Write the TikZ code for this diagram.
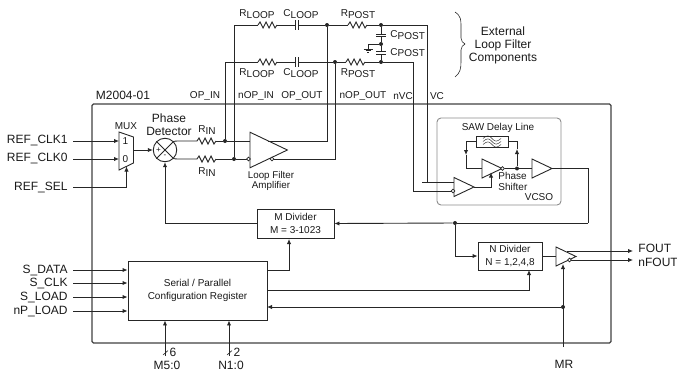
\documentclass[tikz,border=0pt]{standalone}
\usepackage{fontspec}
\setmainfont{Liberation Sans}
\usetikzlibrary{arrows.meta}
\definecolor{wirecol}{gray}{0.15}
\definecolor{framecol}{gray}{0.25}
\definecolor{vcsocol}{gray}{0.55}
\newcommand{\sublab}[2]{#1\raisebox{-1.6pt}{#2}}
\tikzset{
  >={Latex[length=5pt,width=4.4pt]},
  txtsmall/.style={font=\fontsize{10}{12.5}\selectfont,text=black!90,inner sep=0pt,align=center},
  txtbig/.style={font=\fontsize{12}{13}\selectfont,text=black!90,inner sep=0pt,align=center},
  pinleft/.style={txtbig,anchor=east,inner xsep=5pt},
  box/.style={draw=wirecol,txtsmall,fill=white},
  dot/.style={circle,fill=wirecol,inner sep=0pt,minimum size=4pt},
  bubble/.style={circle,draw=wirecol,fill=white,inner sep=0pt,minimum size=3.8pt,line width=0.6pt},
  resistor/.pic={
    \draw (0,0) -- (2,-3) -- (5,3) -- (8,-3) -- (11,3) -- (14,-3) -- (17,3) -- (19,0);
    \coordinate (-in) at (0,0);
    \coordinate (-out) at (19,0);
  },
  capacitor/.pic={
    \draw (-1.5,-5) -- (-1.5,5);
    \draw (1.5,-5) -- (1.5,5);
    \coordinate (-in) at (-1.5,0);
    \coordinate (-out) at (1.5,0);
  },
  capvert/.pic={
    \draw (-5,-1.4) -- (5,-1.4);
    \draw (-5,1.4) -- (5,1.4);
    \coordinate (-in) at (0,-1.4);
    \coordinate (-out) at (0,1.4);
  },
  buffer/.pic={
    \draw[fill=white] (0,-9.5) -- (20,0) -- (0,9.5) -- cycle;
    \coordinate (-in) at (0,0);
    \coordinate (-tip) at (20,0);
  },
}
\begin{document}
\begin{tikzpicture}[x=1pt,y=-1pt,line width=0.9pt,draw=wirecol]
  \useasboundingbox (0,0) rectangle (677,372);
  % frames
  \draw[framecol,line width=1.1pt,rounded corners=1.5pt] (92,104) rectangle (611,343);
  \draw[vcsocol,rounded corners=4pt] (437,118) rectangle (561,205);
  \node[txtbig] (chipname) at (123,95) {M2004-01};
  \node[txtsmall] (vcsoname) at (539,197) {VCSO};

  % pins on the left
  \node[pinleft] (refclka) at (73,141) {REF\_CLK1};
  \node[pinleft] (refclkb) at (73,159) {REF\_CLK0};
  \node[pinleft] (refsel) at (73,187) {REF\_SEL};
  \node[pinleft] (sdata) at (73,270) {S\_DATA};
  \node[pinleft] (sclk) at (73,283) {S\_CLK};
  \node[pinleft] (sload) at (73,297) {S\_LOAD};
  \node[pinleft] (npload) at (73,311) {nP\_LOAD};

  % mux and phase detector
  \coordinate (muxa) at (119,141);
  \coordinate (muxb) at (119,159);
  \coordinate (muxout) at (133.5,150);
  \coordinate (muxsel) at (126.5,166.5);
  \draw[fill=white] (119,132) -- (133.5,137) -- (133.5,163) -- (119,170) -- cycle;
  \node[txtsmall] (muxname) at (126,126) {MUX};
  \node[txtsmall] (muxlaba) at (125.5,141) {1};
  \node[txtsmall] (muxlabb) at (125.5,159) {0};
  \node[circle,draw=wirecol,inner sep=0pt,minimum size=23.5pt] (pd) at (165,150) {};
  \draw (pd.45) -- (pd.225);
  \draw (pd.135) -- (pd.315);
  \node[txtsmall,font=\fontsize{8}{8}\selectfont] (pdplus) at (158.5,150) {+};
  \node[txtsmall,font=\fontsize{8}{8}\selectfont] (pdminus) at (165,156.5) {-};
  \node[txtbig] (pdname) at (169,124.5) {Phase\\Detector};
  \draw[->] (refclka.east) -- (muxa);
  \draw[->] (refclkb.east) -- (muxb);
  \draw[->] (refsel.east) -| (muxsel);
  \draw[->] (muxout) -- (pd.west);

  % input resistors and amplifier
  \path (197,141) pic (rina) {resistor};
  \path (197,159) pic (rinb) {resistor};
  \node[txtsmall] (rinlaba) at (207,130) {\sublab{R}{IN}};
  \node[txtsmall] (rinlabb) at (207,172) {\sublab{R}{IN}};
  \node[dot] (nodea) at (225,141) {};
  \node[dot] (nodeb) at (234,159) {};
  \coordinate (pdup) at (177,141);
  \coordinate (pddown) at (177,159);
  \coordinate (ampa) at (250,141);
  \coordinate (ampb) at (248,159);
  \coordinate (ampc) at (268,141);
  \draw (pd.45) -- (pdup) -- (rina-in);
  \draw (pd.315) -- (pddown) -- (rinb-in);
  \draw (rina-out) -- (nodea) -- (ampa);
  \draw (rinb-out) -- (nodeb) -- (ampb);
  \path (250,150) pic[scale=1.87] (amp) {buffer};
  \node[bubble] (ampbuba) at (248.5,159) {};
  \node[bubble] (ampbubb) at (272,159) {};
  \node[txtsmall,font=\fontsize{9.8}{10.5}\selectfont] (ampname) at (271,181) {Loop Filter\\Amplifier};

  % loop filter, upper and lower branch
  \path (258,25) pic (rloopa) {resistor};
  \path (258,62) pic (rloopb) {resistor};
  \path (297,25) pic (cloopa) {capacitor};
  \path (297,62) pic (cloopb) {capacitor};
  \path (348,25) pic (rposta) {resistor};
  \path (346,62) pic (rpostb) {resistor};
  \path (381,35.5) pic (cposta) {capvert};
  \path (381,53) pic (cpostb) {capvert};
  \node[dot] (nodec) at (327,25) {};
  \node[dot] (noded) at (335,62) {};
  \node[dot] (nodee) at (381,25) {};
  \node[dot] (nodef) at (381,44) {};
  \node[dot] (nodeg) at (381,62) {};
  \coordinate (vcin) at (422,182);
  \coordinate (vcbend) at (427,182);
  \coordinate (nvcin) at (453,191);
  \coordinate (gnd) at (368,49);
  \draw (nodea) |- (rloopb-in);
  \draw (nodeb) |- (rloopa-in);
  \draw (rloopa-out) -- (cloopa-in);
  \draw (rloopb-out) -- (cloopb-in);
  \draw (cloopa-out) -- (nodec) -- (rposta-in);
  \draw (cloopb-out) -- (noded) -- (rpostb-in);
  \draw (ampc) -| (nodec);
  \draw (ampbubb) -| (noded);
  \draw (rposta-out) -- (nodee) -- (427,25) -- (vcbend);
  \draw (rpostb-out) -- (nodeg) -- (413,62) |- (nvcin);
  \draw (nodee) -- (cposta-in);
  \draw (cposta-out) -- (nodef) -- (cpostb-in);
  \draw (cpostb-out) -- (nodeg);
  \draw (nodef) -| (gnd);
  \draw (363.5,49) -- (372.5,49);
  \draw[line width=1.2pt] (365.5,50.8) -- (370.5,50.8);
  \draw[line width=1pt] (367,52.4) -- (369,52.4);

  \node[txtsmall] (rlooplaba) at (257,14) {\sublab{R}{LOOP}};
  \node[txtsmall] (cplooplaba) at (301,14) {\sublab{C}{LOOP}};
  \node[txtsmall] (rpostlaba) at (358,14) {\sublab{R}{POST}};
  \node[txtsmall] (rlooplabb) at (257,73) {\sublab{R}{LOOP}};
  \node[txtsmall] (cplooplabb) at (301,73) {\sublab{C}{LOOP}};
  \node[txtsmall] (rpostlabb) at (358,73) {\sublab{R}{POST}};
  \node[txtsmall,anchor=west] (cpostlaba) at (390,35) {\sublab{C}{POST}};
  \node[txtsmall,anchor=west] (cpostlabb) at (390,52.5) {\sublab{C}{POST}};

  % external pins above the frame
  \node[txtsmall] (opin) at (205,96) {OP\_IN};
  \node[txtsmall] (nopin) at (256,96) {nOP\_IN};
  \node[txtsmall] (opout) at (302,96) {OP\_OUT};
  \node[txtsmall] (nopout) at (363,96) {nOP\_OUT};
  \node[txtsmall] (nvc) at (403,96) {nVC};
  \node[txtsmall] (vc) at (437,96) {VC};

  % brace
  \draw[line width=0.6pt] (455,12) .. controls (461,16) and (461,20) .. (461,26) -- (461,38)
    .. controls (461,41) and (463,43) .. (465,44) .. controls (463,45) and (461,47) .. (461,50)
    -- (461,62) .. controls (461,69) and (460,73) .. (455,77);
  \node[txtbig,align=center] (extname) at (503,45) {External\\Loop Filter\\Components};

  % vcso
  \node[txtsmall,minimum width=32pt,minimum height=11pt,draw=wirecol,fill=white] (saw) at (492,141.5) {};
  \foreach \dy in {-3,0,3}
    \draw[line width=0.45pt] (483,141.5+\dy) .. controls (487,138+\dy) and (489,138+\dy) .. (492,141.5+\dy)
      .. controls (495,145+\dy) and (497,145+\dy) .. (501,141.5+\dy);
  \node[txtsmall] (sawname) at (498,128) {SAW Delay Line};
  \coordinate (shiftin) at (482,168.5);
  \coordinate (sawleft) at (466,155);
  \coordinate (sawright) at (517,149);
  \coordinate (shiftctl) at (491,172.5);
  \node[dot] (nodeh) at (517,168.5) {};
  \draw[->] (saw.west) -| (sawleft);
  \draw (sawleft) |- (shiftin);
  \draw[->] (nodeh) -- (sawright);
  \draw (sawright) |- (saw.east);
  \path (482,168.5) pic (shift) {buffer};
  \path (532,168.5) pic (vcsobuf) {buffer};
  \path (454,187) pic (vcoin) {buffer};
  \node[bubble] (shiftbub) at (502.5,168.5) {};
  \node[bubble] (vcoinbub) at (453,191) {};
  \draw (shiftbub) -- (nodeh) -- (vcsobuf-in);
  \draw[->] (vcoin-tip) -| (shiftctl);
  \draw (vcin) -- (454,182);
  \node[txtsmall,font=\fontsize{10}{11}\selectfont,align=left,anchor=west] (shiftname) at (498,181.5) {Phase\\Shifter};

  % dividers and register
  \node[box,minimum width=77pt,minimum height=29pt] (mdiv) at (295.5,223.5) {M Divider\\M = 3-1023};
  \node[box,minimum width=64pt,minimum height=28pt] (ndiv) at (510,256) {N Divider\\N = 1,2,4,8};
  \node[box,minimum width=139pt,minimum height=59pt] (cfg) at (197.5,290.5) {Serial / Parallel\\Configuration Register};
  \node[dot] (nodei) at (455,223) {};
  \node[dot] (nodej) at (563,307) {};
  \coordinate (cfgm) at (267,270);
  \coordinate (cfgn) at (267,290.5);
  \coordinate (cfgr) at (267,307);
  \coordinate (mpin) at (289,239);
  \coordinate (npin) at (529,270);
  \coordinate (vcsobend) at (588,223);
  \draw (vcsobuf-tip) -| (vcsobend);
  \draw (vcsobend) -- (nodei);
  \draw[->] (nodei) -- (mdiv.east);
  \draw[->] (nodei) |- (ndiv.west);
  \draw[->] (mdiv.west) -| (pd.south);
  \draw[->] (sdata.east) -- (sdata.east -| cfg.west);
  \draw[->] (sclk.east) -- (sclk.east -| cfg.west);
  \draw[->] (sload.east) -- (sload.east -| cfg.west);
  \draw[->] (npload.east) -- (npload.east -| cfg.west);
  \draw[->] (cfgm) -| (mpin);
  \draw[->] (cfgn) -| (npin);
  \draw[->] (nodej) -- (cfgr);

  % output stage
  \coordinate (fouta) at (567,251);
  \coordinate (foutb) at (569,260);
  \coordinate (mrin) at (563,264);
  \coordinate (mrend) at (563,347);
  \coordinate (mset) at (165,356);
  \coordinate (nset) at (229,356);
  \node[txtbig,anchor=west,inner xsep=5pt] (fout) at (633,248) {FOUT};
  \node[txtbig,anchor=west,inner xsep=5pt] (nfout) at (633,262) {nFOUT};
  \draw[->] (fouta) -- (fouta -| fout.west);
  \draw[->] (foutb) -- (foutb -| nfout.west);
  \draw (ndiv.east) -- (556,256);
  \path (556,256.5) pic (outbuf) {buffer};
  \node[bubble] (outbub) at (569.5,260) {};
  \draw[->] (mrend) -- (mrin);
  \node[txtbig] (mr) at (564,364.5) {MR};

  % mode pins
  \draw[->] (mset) -- (mset |- cfg.south);
  \draw[->] (nset) -- (nset |- cfg.south);
  \draw[line width=0.6pt] (163,355) -- (168,350.5);
  \draw[line width=0.6pt] (227,355) -- (232,350.5);
  \node[txtbig] (mwidth) at (173,352) {6};
  \node[txtbig] (nwidth) at (237,352) {2};
  \node[txtbig] (mpins) at (167,365) {M5:0};
  \node[txtbig] (npins) at (231,365) {N1:0};
\end{tikzpicture}
\end{document}
